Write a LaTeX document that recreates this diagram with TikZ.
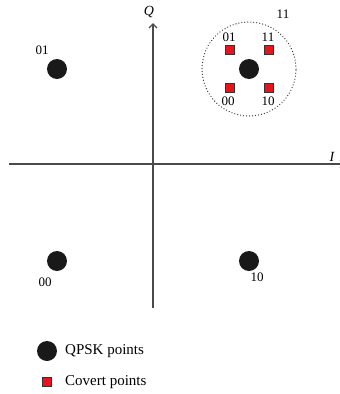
\documentclass[tikz,border=0pt]{standalone}
\usepackage{fontspec}
\setmainfont{Liberation Serif}
\usetikzlibrary{arrows.meta}
\definecolor{axisgray}{HTML}{4A4A4A}
\definecolor{covred}{HTML}{E8141B}
\begin{document}
\begin{tikzpicture}[x=1pt,y=-1pt,
  qpsk/.style={circle,fill=black!90,inner sep=0pt,minimum size=20pt},
  covert/.style={rectangle,fill=covred,draw=black!80,line width=0.6pt,inner sep=0pt,minimum size=9pt},
  lbl/.style={font=\fontsize{13}{14}\selectfont,inner sep=0pt},
  leg/.style={font=\fontsize{15}{16}\selectfont,inner sep=0pt,anchor=west},
  axis/.style={draw=axisgray,line width=1.3pt}]
\useasboundingbox (0,0) rectangle (340,394);
% axes
\coordinate (ybot) at (153,308);
\coordinate (ytop) at (153,23);
\coordinate (xl) at (9,164);
\coordinate (xr) at (345,164);
\draw[axis,-{Straight Barb[length=4pt,width=8pt]}] (ybot) -- (ytop);
\draw[axis,-{Straight Barb[length=4pt,width=8pt]}] (xl) -- (xr);
\node[lbl,font=\fontsize{14}{15}\selectfont\itshape] (Q) at (149,12) {Q};
\node[lbl,font=\fontsize{14}{15}\selectfont\itshape] (I) at (332,157) {I};
% QPSK points
\node[qpsk] (p01) at (57,69) {};
\node[qpsk] (p00) at (57,261) {};
\node[qpsk] (p10) at (249,261) {};
\node[qpsk] (p11) at (249,69) {};
\node[lbl] (l01) at (42,50) {01};
\node[lbl] (l00) at (45,282) {00};
\node[lbl] (l10) at (257,277) {10};
\node[lbl] (l11) at (283,14) {11};
% dotted circle
\node[circle,draw=black!80,line width=1.3pt,line cap=round,dash pattern=on 0pt off 3pt,minimum size=94pt,inner sep=0pt] (ring) at (249,69) {};
% covert points
\node[covert] (c01) at (230,50) {};
\node[covert] (c11) at (269,50) {};
\node[covert] (c00) at (230,88) {};
\node[covert] (c10) at (269,88) {};
\node[lbl] (lc01) at (229,37) {01};
\node[lbl] (lc11) at (268,37) {11};
\node[lbl] (lc00) at (228,101) {00};
\node[lbl] (lc10) at (268,101) {10};
% legend
\node[qpsk] (legq) at (47,351) {};
\node[covert] (legc) at (47,382) {};
\node[leg] (legqt) at (65,351) {QPSK points};
\node[leg] (legct) at (65,382) {Covert points};
\end{tikzpicture}
\end{document}
